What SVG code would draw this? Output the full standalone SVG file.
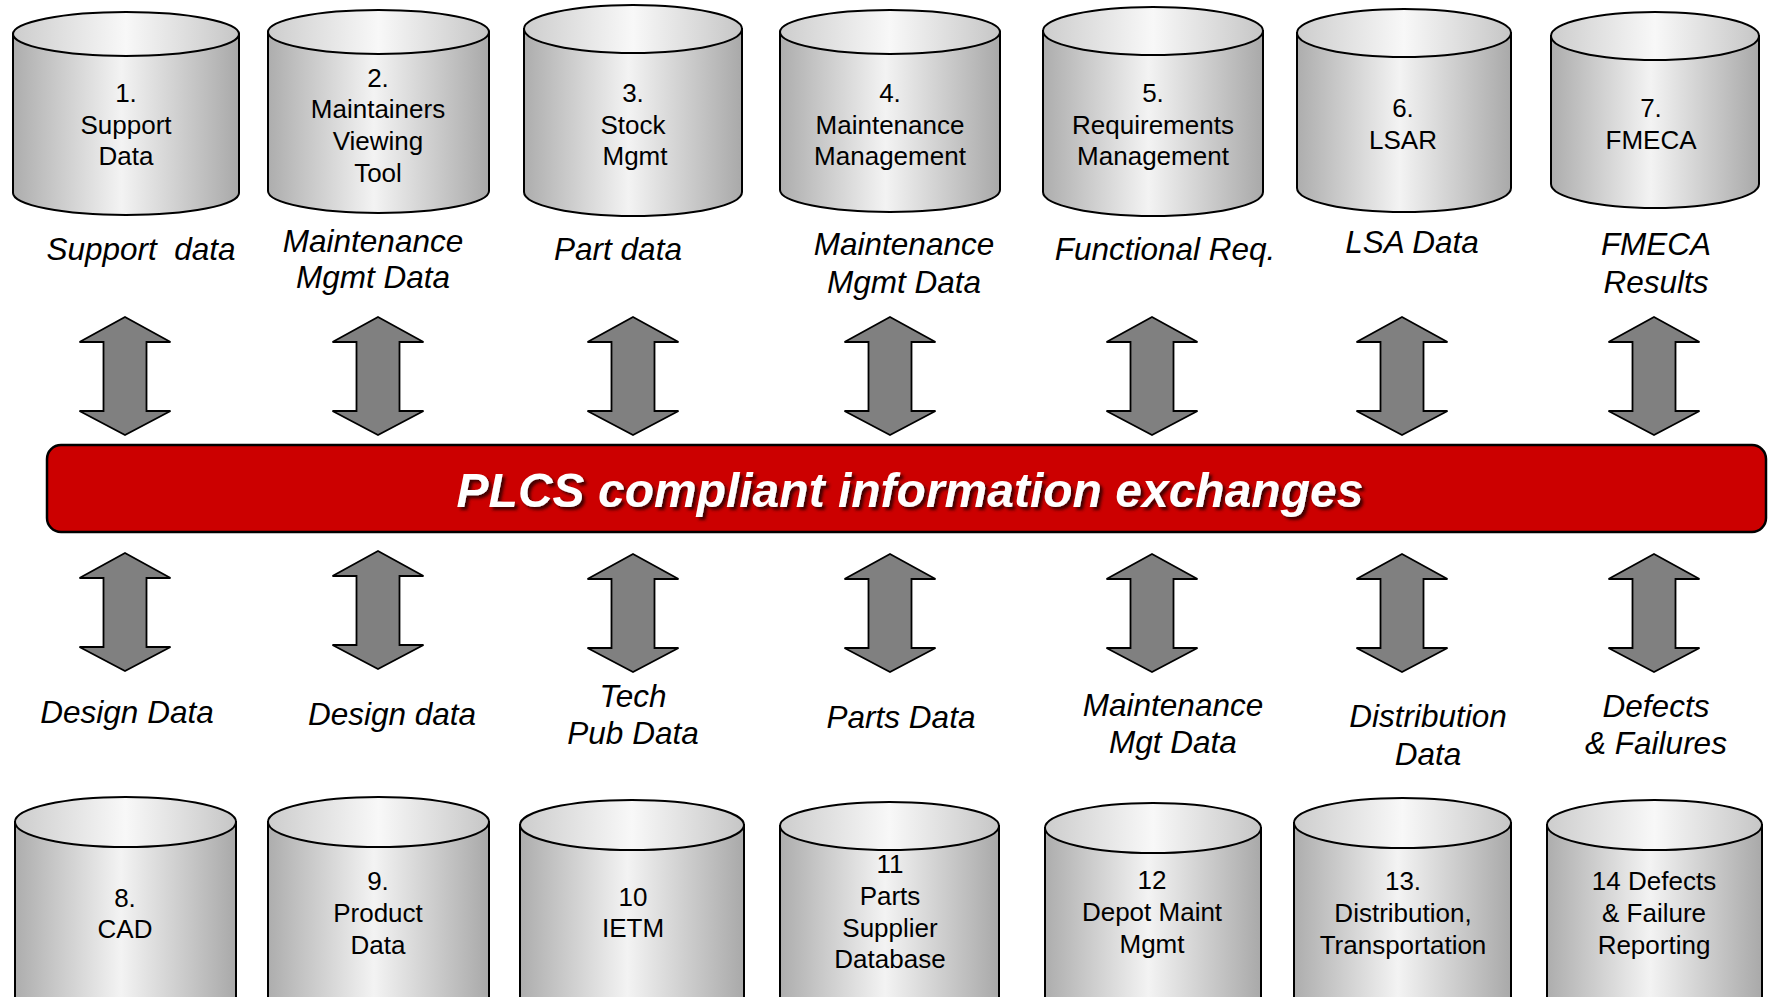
<svg xmlns="http://www.w3.org/2000/svg" xmlns:xlink="http://www.w3.org/1999/xlink" width="1768" height="997" viewBox="0 0 1768 997">
  <defs>
    <linearGradient id="bodyGrad" x1="0" y1="0" x2="1" y2="0">
      <stop offset="0" stop-color="#adadad"/>
      <stop offset="0.48" stop-color="#f3f3f3"/>
      <stop offset="1" stop-color="#a9a9a9"/>
    </linearGradient>
    <linearGradient id="topGrad" x1="0" y1="0" x2="1" y2="0">
      <stop offset="0" stop-color="#cdcdcd"/>
      <stop offset="0.5" stop-color="#f8f8f8"/>
      <stop offset="1" stop-color="#c6c6c6"/>
    </linearGradient>
    <filter id="textShadow" x="-5%" y="-30%" width="110%" height="160%">
      <feDropShadow dx="3" dy="3" stdDeviation="1.4" flood-color="#2a0000" flood-opacity="0.85"/>
    </filter>
    <!-- double-headed block arrow, centred on x=0 -->
    <path id="dblArrow" d="M0,317 L45.5,342 H21.5 V411 H45.5 L0,435 L-45.5,411 H-21.5 V342 H-45.5 Z"/>
    <style>
      .body { fill: url(#bodyGrad); stroke: #000; stroke-width: 2; }
      .lid { fill: url(#topGrad); stroke: #000; stroke-width: 2; }
      .name { font-family: "Liberation Sans", Arial, sans-serif; font-size: 26px; fill: #000; text-anchor: middle; }
      .flow { font-family: "Liberation Sans", Arial, sans-serif; font-size: 31.5px; font-style: italic; fill: #000; text-anchor: middle; }
      .arrow { fill: #808080; stroke: #000; stroke-width: 1.8; stroke-linejoin: miter; }
      .title { font-family: "Liberation Sans", Arial, sans-serif; font-size: 48px; font-weight: bold; font-style: italic; fill: #fff; text-anchor: middle; }
    </style>
  </defs>

  <rect width="1768" height="997" fill="#fff"/>

  <!-- upper row of data stores -->
  <g id="node-1">
    <path class="body" d="M13,34 V193 A113,22 0 0 0 239,193 V34 Z"/>
    <ellipse class="lid" cx="126" cy="34" rx="113" ry="22"/>
    <text class="name" x="126" y="102">1.</text>
    <text class="name" x="126" y="134">Support</text>
    <text class="name" x="126" y="165">Data</text>
  </g>
  <g id="node-2">
    <path class="body" d="M268,32 V191 A110.5,22 0 0 0 489,191 V32 Z"/>
    <ellipse class="lid" cx="378.5" cy="32" rx="110.5" ry="22"/>
    <text class="name" x="378" y="87">2.</text>
    <text class="name" x="378" y="118">Maintainers</text>
    <text class="name" x="378" y="150">Viewing</text>
    <text class="name" x="378" y="182">Tool</text>
  </g>
  <g id="node-3">
    <path class="body" d="M524,29 V192 A109,24 0 0 0 742,192 V29 Z"/>
    <ellipse class="lid" cx="633" cy="29" rx="109" ry="24"/>
    <text class="name" x="633" y="102">3.</text>
    <text class="name" x="633" y="134">Stock</text>
    <text class="name" x="635" y="165">Mgmt</text>
  </g>
  <g id="node-4">
    <path class="body" d="M780,32 V190 A110,22 0 0 0 1000,190 V32 Z"/>
    <ellipse class="lid" cx="890" cy="32" rx="110" ry="22"/>
    <text class="name" x="890" y="102">4.</text>
    <text class="name" x="890" y="134">Maintenance</text>
    <text class="name" x="890" y="165">Management</text>
  </g>
  <g id="node-5">
    <path class="body" d="M1043,31 V192 A110,24 0 0 0 1263,192 V31 Z"/>
    <ellipse class="lid" cx="1153" cy="31" rx="110" ry="24"/>
    <text class="name" x="1153" y="102">5.</text>
    <text class="name" x="1153" y="134">Requirements</text>
    <text class="name" x="1153" y="165">Management</text>
  </g>
  <g id="node-6">
    <path class="body" d="M1297,33 V188 A107,24 0 0 0 1511,188 V33 Z"/>
    <ellipse class="lid" cx="1404" cy="33" rx="107" ry="24"/>
    <text class="name" x="1403" y="117">6.</text>
    <text class="name" x="1403" y="149">LSAR</text>
  </g>
  <g id="node-7">
    <path class="body" d="M1551,36 V184 A104,24 0 0 0 1759,184 V36 Z"/>
    <ellipse class="lid" cx="1655" cy="36" rx="104" ry="24"/>
    <text class="name" x="1651" y="117">7.</text>
    <text class="name" x="1651" y="149">FMECA</text>
  </g>

  <!-- data flow labels above the exchange bar -->
  <g id="labels-upper">
    <text class="flow" x="141" y="260" style="white-space:pre">Support  data</text>
    <text class="flow" x="373" y="252">Maintenance</text>
    <text class="flow" x="373" y="288">Mgmt Data</text>
    <text class="flow" x="618" y="260">Part data</text>
    <text class="flow" x="904" y="255">Maintenance</text>
    <text class="flow" x="904" y="293">Mgmt Data</text>
    <text class="flow" x="1165" y="260">Functional Req.</text>
    <text class="flow" x="1412" y="253">LSA Data</text>
    <text class="flow" x="1656" y="255">FMECA</text>
    <text class="flow" x="1656" y="293">Results</text>
  </g>

  <!-- exchange arrows -->
  <g id="connectors">
    <use xlink:href="#dblArrow" href="#dblArrow" class="arrow" transform="translate(125,0)"/>
    <use xlink:href="#dblArrow" href="#dblArrow" class="arrow" transform="translate(378,0)"/>
    <use xlink:href="#dblArrow" href="#dblArrow" class="arrow" transform="translate(633,0)"/>
    <use xlink:href="#dblArrow" href="#dblArrow" class="arrow" transform="translate(890,0)"/>
    <use xlink:href="#dblArrow" href="#dblArrow" class="arrow" transform="translate(1152,0)"/>
    <use xlink:href="#dblArrow" href="#dblArrow" class="arrow" transform="translate(1402,0)"/>
    <use xlink:href="#dblArrow" href="#dblArrow" class="arrow" transform="translate(1654,0)"/>

    <use xlink:href="#dblArrow" href="#dblArrow" class="arrow" transform="translate(125,236)"/>
    <use xlink:href="#dblArrow" href="#dblArrow" class="arrow" transform="translate(378,234)"/>
    <use xlink:href="#dblArrow" href="#dblArrow" class="arrow" transform="translate(633,237)"/>
    <use xlink:href="#dblArrow" href="#dblArrow" class="arrow" transform="translate(890,237)"/>
    <use xlink:href="#dblArrow" href="#dblArrow" class="arrow" transform="translate(1152,237)"/>
    <use xlink:href="#dblArrow" href="#dblArrow" class="arrow" transform="translate(1402,237)"/>
    <use xlink:href="#dblArrow" href="#dblArrow" class="arrow" transform="translate(1654,237)"/>
  </g>

  <!-- central exchange bar -->
  <g id="plcs-bar">
    <rect x="47" y="445" width="1719" height="87" rx="14" ry="14" fill="#cc0000" stroke="#000" stroke-width="2.5"/>
    <text class="title" x="910" y="507" filter="url(#textShadow)">PLCS compliant information exchanges</text>
  </g>

  <!-- data flow labels below the exchange bar -->
  <g id="labels-lower">
    <text class="flow" x="127" y="723">Design Data</text>
    <text class="flow" x="392" y="725">Design data</text>
    <text class="flow" x="633" y="707">Tech</text>
    <text class="flow" x="633" y="744">Pub Data</text>
    <text class="flow" x="901" y="728">Parts Data</text>
    <text class="flow" x="1173" y="716">Maintenance</text>
    <text class="flow" x="1173" y="753">Mgt Data</text>
    <text class="flow" x="1428" y="727">Distribution</text>
    <text class="flow" x="1428" y="765">Data</text>
    <text class="flow" x="1656" y="717">Defects</text>
    <text class="flow" x="1656" y="754">&amp; Failures</text>
  </g>

  <!-- lower row of data stores (cut by the page edge) -->
  <g id="node-8">
    <path class="body" d="M15,822 V1030 H236 V822 Z"/>
    <ellipse class="lid" cx="125.5" cy="822" rx="110.5" ry="25"/>
    <text class="name" x="125" y="907">8.</text>
    <text class="name" x="125" y="938">CAD</text>
  </g>
  <g id="node-9">
    <path class="body" d="M268,822 V1030 H489 V822 Z"/>
    <ellipse class="lid" cx="378.5" cy="822" rx="110.5" ry="25"/>
    <text class="name" x="378" y="890">9.</text>
    <text class="name" x="378" y="922">Product</text>
    <text class="name" x="378" y="954">Data</text>
  </g>
  <g id="node-10">
    <path class="body" d="M520,825 V1030 H744 V825 Z"/>
    <ellipse class="lid" cx="632" cy="825" rx="112" ry="25"/>
    <text class="name" x="633" y="906">10</text>
    <text class="name" x="633" y="937">IETM</text>
  </g>
  <g id="node-11">
    <path class="body" d="M780,826 V1030 H999 V826 Z"/>
    <ellipse class="lid" cx="889.5" cy="826" rx="109.5" ry="24"/>
    <text class="name" x="890" y="873">11</text>
    <text class="name" x="890" y="905">Parts</text>
    <text class="name" x="890" y="937">Supplier</text>
    <text class="name" x="890" y="968">Database</text>
  </g>
  <g id="node-12">
    <path class="body" d="M1045,828 V1030 H1261 V828 Z"/>
    <ellipse class="lid" cx="1153" cy="828" rx="108" ry="25"/>
    <text class="name" x="1152" y="889">12</text>
    <text class="name" x="1152" y="921">Depot Maint</text>
    <text class="name" x="1152" y="953">Mgmt</text>
  </g>
  <g id="node-13">
    <path class="body" d="M1294,823 V1030 H1511 V823 Z"/>
    <ellipse class="lid" cx="1402.5" cy="823" rx="108.5" ry="25"/>
    <text class="name" x="1403" y="890">13.</text>
    <text class="name" x="1403" y="922">Distribution,</text>
    <text class="name" x="1403" y="954">Transportation</text>
  </g>
  <g id="node-14">
    <path class="body" d="M1547,825 V1030 H1762 V825 Z"/>
    <ellipse class="lid" cx="1654.5" cy="825" rx="107.5" ry="25"/>
    <text class="name" x="1654" y="890">14 Defects</text>
    <text class="name" x="1654" y="922">&amp; Failure</text>
    <text class="name" x="1654" y="954">Reporting</text>
  </g>
</svg>
